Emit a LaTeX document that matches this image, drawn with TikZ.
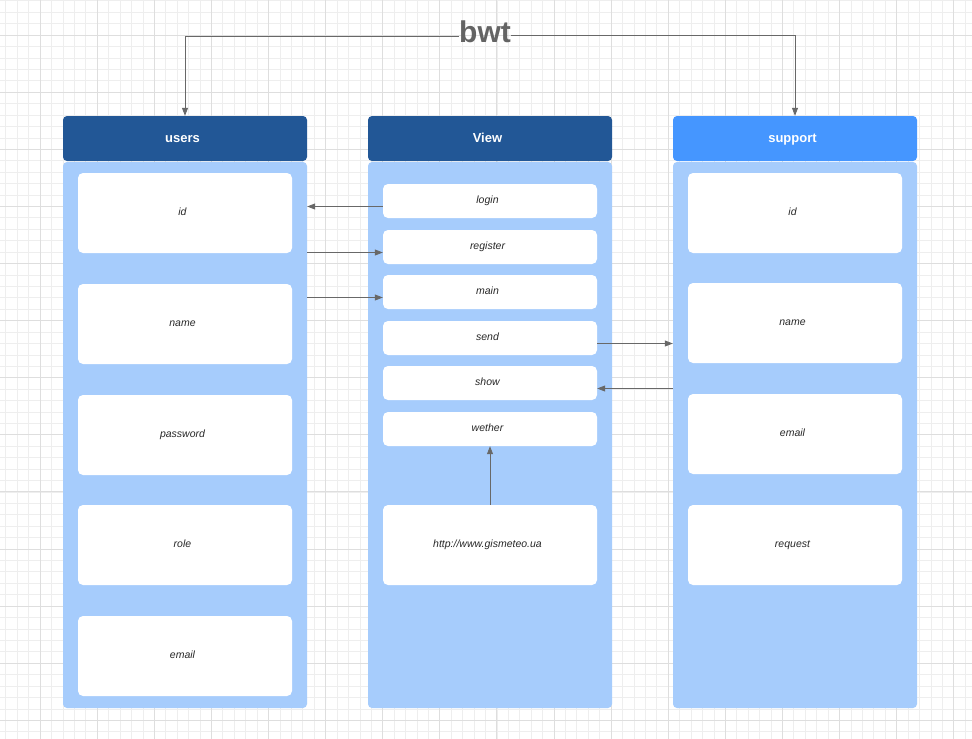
\documentclass[tikz,border=0pt]{standalone}
\usepackage{fontspec}
\setmainfont{Liberation Sans}
\usetikzlibrary{arrows.meta,calc}
\definecolor{hdark}{RGB}{34,87,150}
\definecolor{hlight}{RGB}{69,150,255}
\definecolor{bodyc}{RGB}{166,204,252}
\definecolor{gminor}{RGB}{238,238,238}
\definecolor{gmajor}{RGB}{222,222,222}
\definecolor{connc}{RGB}{104,104,104}
\definecolor{titlec}{RGB}{100,100,100}
\definecolor{labc}{RGB}{40,40,40}
\tikzset{
  minorline/.style={draw=gminor,line width=0.5pt},
  majorline/.style={draw=gmajor,line width=0.7pt},
  header/.style={fill=hdark,rounded corners=4pt,minimum width=244pt,minimum height=45pt,inner sep=0pt,
    text=white,font=\fontsize{13}{15}\selectfont\bfseries,text height=9.5pt,text depth=2.5pt,
    execute at begin node={\hspace*{-5pt}}},
  colbody/.style={fill=bodyc,rounded corners=4pt,minimum width=244pt,minimum height=546pt,inner sep=0pt},
  bigbox/.style={fill=white,rounded corners=5pt,minimum width=214pt,minimum height=80pt,inner sep=0pt,
    text=labc,font=\fontsize{10.5}{12}\selectfont\itshape,text height=7.5pt,text depth=2pt,
    execute at begin node={\hspace*{-5pt}}},
  smallbox/.style={bigbox,minimum height=34pt},
  conn/.style={draw=connc,line width=0.8pt,-{Triangle[length=8pt,width=6pt]}},
  titlestyle/.style={inner sep=0pt,text=titlec,font=\fontsize{30}{34}\selectfont\bfseries}
}
\begin{document}
\begin{tikzpicture}[x=1pt,y=-1pt]
\useasboundingbox (0,0) rectangle (972,739);
\fill[white] (0,0) rectangle (972,739);
% grid
\foreach \i in {-4,...,86} \draw[minorline] ({40+\i*11.42},0) -- ({40+\i*11.42},739);
\foreach \i in {-4,...,66} \draw[minorline] (0,{35+\i*11.42}) -- (972,{35+\i*11.42});
\foreach \i in {-1,...,17} \draw[majorline] ({40+\i*57.1},0) -- ({40+\i*57.1},739);
\foreach \i in {-1,...,13} \draw[majorline] (0,{35+\i*57.1}) -- (972,{35+\i*57.1});
% columns
\node[colbody] (usersB) at (185,435) {};
\node[colbody] (viewB) at (490,435) {};
\node[colbody] (supB) at (795,435) {};
\node[header] (usersH) at (185,138.5) {users};
\node[header] (viewH) at (490,138.5) {View};
\node[header,fill=hlight] (supH) at (795,138.5) {support};
% users boxes
\node[bigbox] (uid) at (185,213) {id};
\node[bigbox] (uname) at (185,324) {name};
\node[bigbox] (upass) at (185,435) {password};
\node[bigbox] (urole) at (185,545) {role};
\node[bigbox] (uemail) at (185,656) {email};
% view boxes
\node[smallbox] (login) at (490,201) {login};
\node[smallbox] (register) at (490,247) {register};
\node[smallbox] (main) at (490,292) {main};
\node[smallbox] (send) at (490,338) {send};
\node[smallbox] (show) at (490,383) {show};
\node[smallbox] (wether) at (490,429) {wether};
\node[bigbox] (http) at (490,545) {http://www.gismeteo.ua};
% support boxes
\node[bigbox] (sid) at (795,213) {id};
\node[bigbox] (sname) at (795,323) {name};
\node[bigbox] (semail) at (795,434) {email};
\node[bigbox] (sreq) at (795,545) {request};
% title
\node[titlestyle,anchor=base] (title) at (485,42) {bwt};
\draw[conn] ([yshift=-5.5pt]title.west) -| (usersH.north);
\draw[conn] ([yshift=-4.5pt]title.east) -| (supH.north);
% connectors
\coordinate (lgA) at ([yshift=-5.5pt]login.west);
\draw[conn] (lgA) -- (lgA -| usersB.east);
\coordinate (rgA) at ([yshift=-5.5pt]register.west);
\draw[conn] (rgA -| usersB.east) -- (rgA);
\coordinate (mnA) at ([yshift=-5.5pt]main.west);
\draw[conn] (mnA -| usersB.east) -- (mnA);
\coordinate (sdA) at ([yshift=-5.5pt]send.east);
\draw[conn] (sdA) -- (sdA -| supB.west);
\coordinate (shA) at ([yshift=-5.5pt]show.east);
\draw[conn] (shA -| supB.west) -- (shA);
\draw[conn] (http.north) -- (wether.south);
\end{tikzpicture}
\end{document}
